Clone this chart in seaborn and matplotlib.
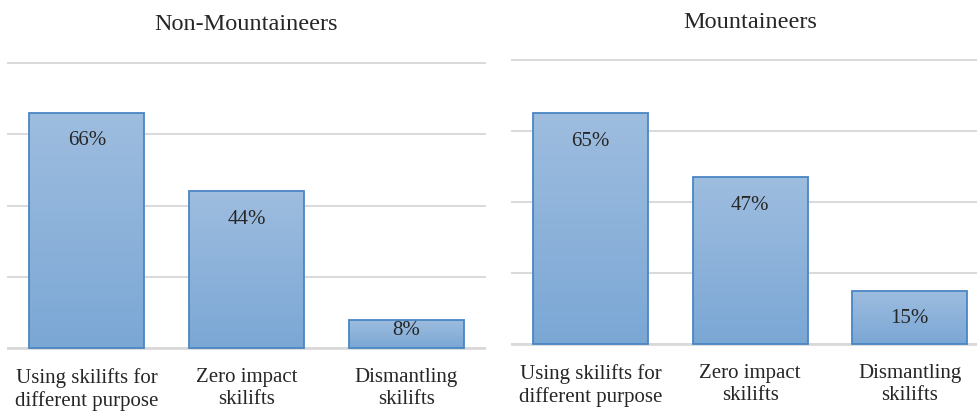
import numpy as np
import pandas as pd
import matplotlib
matplotlib.use("Agg")
import matplotlib.pyplot as plt
import seaborn as sns
from matplotlib.colors import LinearSegmentedColormap

# Survey shares (%) per option, for each respondent group
categories = ["Using skilifts for\ndifferent purpose", "Zero impact\nskilifts", "Dismantling\nskilifts"]
non_mountaineers = [66, 44, 8]
mountaineers = [65, 47, 15]
panel_titles = ["Non-Mountaineers", "Mountaineers"]
grid_ticks = [0, 20, 40, 60, 80]

sns.set_theme(style="white")
plt.rcParams["font.family"] = ["Liberation Serif", "DejaVu Serif"]
TEXT = "#262626"
GRID = "#d9d9d9"
EDGE = "#4a86c4"
bar_cmap = LinearSegmentedColormap.from_list("barfill", ["#7ba7d5", "#9ebddf"])

W, H = 978, 414
fig = plt.figure(figsize=(W / 100, H / 100), dpi=100)

YMIN, YMAX = -1.0, 82.0


def make_axes(left_px, width_px, zero_px, top80_px):
    per_unit = (zero_px - top80_px) / 80.0
    bottom_px = zero_px + (0 - YMIN) * per_unit
    top_px = top80_px - (YMAX - 80) * per_unit
    return fig.add_axes([left_px / W, 1 - bottom_px / H,
                         width_px / W, (bottom_px - top_px) / H])


panels = [
    (make_axes(7, 479, 349, 64), non_mountaineers, 19),
    (make_axes(511, 478.5, 345, 61), mountaineers, 19),
]

for (ax, values, title_pad), title in zip(panels, panel_titles):
    df = pd.DataFrame({"option": categories, "share": values})
    sns.barplot(data=df, x="option", y="share", ax=ax, width=0.72,
                color="#8fb3da", edgecolor=EDGE, linewidth=1.3,
                errorbar=None, zorder=2)
    ax.set_axisbelow(True)
    ax.set_ylim(YMIN, YMAX)
    ax.set_xlim(-0.5, 2.5)
    ax.set_yticks(grid_ticks)
    ax.yaxis.grid(True, color=GRID, linewidth=1.4)
    ax.tick_params(axis="y", left=False, labelleft=False)
    ax.tick_params(axis="x", bottom=False, pad=5, labelsize=15, labelcolor=TEXT)
    for lbl in ax.get_xticklabels():
        lbl.set_linespacing(1.22)
    ax.set_xlabel("")
    ax.set_ylabel("")
    for s in ax.spines.values():
        s.set_visible(False)
    ax.axhline(0, color=GRID, linewidth=2.0, zorder=1)
    ax.set_title(title, fontsize=17.5, color=TEXT, pad=title_pad)

    grad = np.linspace(0, 1, 256).reshape(-1, 1)
    for patch, v in zip(ax.patches, values):
        x0, y0 = patch.get_x(), patch.get_y()
        w, h = patch.get_width(), patch.get_height()
        im = ax.imshow(grad, extent=[x0, x0 + w, y0, y0 + h], origin="lower",
                       aspect="auto", cmap=bar_cmap, zorder=1.9,
                       interpolation="bilinear")
        im.set_clip_path(patch)
        patch.set_facecolor("none")
        # value label just inside the top of the bar
        bar_px = h * ax.bbox.height / (YMAX - YMIN)
        offset = -27 if bar_px > 45 else -10
        ax.annotate(f"{v}%", (x0 + w / 2, y0 + h), xytext=(0, offset * 0.72),
                    textcoords="offset points", ha="center", va="center",
                    fontsize=15, color=TEXT, zorder=3)
    ax.set_xlim(-0.5, 2.5)
    ax.set_ylim(YMIN, YMAX)

fig.savefig("out.png", dpi=100, facecolor="white")
